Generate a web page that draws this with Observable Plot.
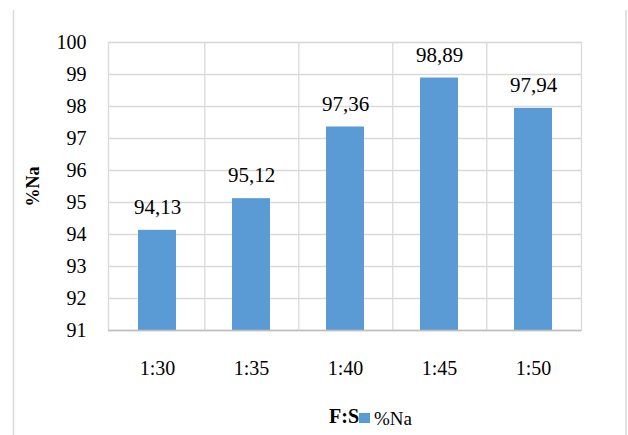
<!DOCTYPE html>
<html>
<head>
<meta charset="utf-8">
<script src="https://cdn.jsdelivr.net/npm/d3@7"></script>
<script src="https://cdn.jsdelivr.net/npm/@observablehq/plot@0.6"></script>
<style>
  html, body { margin: 0; padding: 0; background: #fff; }
  #chart { position: relative; width: 628px; height: 435px; }
  #chart svg, #chart svg text { font-family: "Liberation Serif", "Times New Roman", serif !important; }
</style>
</head>
<body>
<div id="chart"></div>
<script>
// Sodium recovery (%Na) for each F:S ratio
const ratios = ["1:30", "1:35", "1:40", "1:45", "1:50"];
const naPercent = [94.13, 95.12, 97.36, 98.89, 97.94];
const yTicks = [91, 92, 93, 94, 95, 96, 97, 98, 99, 100];
const seriesName = "%Na";
const xTitle = "F:S";

const data = ratios.map((r, i) => ({ ratio: r, value: naPercent[i] }));
const fmt = v => v.toFixed(2).replace(".", ",");

const W = 628, H = 435;
const mL = 108, mR = 47, mT = 42, mB = 105;
const halfStep = (W - mL - mR) / ratios.length / 2;
const barColor = "#5b9bd5";
const gridColor = "#d9d9d9";
const serif = "'Liberation Serif', 'Times New Roman', serif";

const plot = Plot.plot({
  width: W,
  height: H,
  marginLeft: mL,
  marginRight: mR,
  marginTop: mT,
  marginBottom: mB,
  style: { fontSize: "20px", fontFamily: serif, color: "#000", background: "#fff" },
  x: { domain: ratios, paddingInner: 0.6, paddingOuter: 0.3, label: xTitle },
  y: { domain: [91, 100], ticks: yTicks, label: seriesName },
  marks: [
    Plot.gridY(yTicks, { stroke: gridColor, strokeOpacity: 1, strokeWidth: 1.3 }),
    Plot.ruleX(ratios.slice(0, -1), { x: d => d, dx: halfStep, stroke: gridColor, strokeWidth: 1.3 }),
    Plot.frame({ stroke: gridColor, strokeWidth: 1.3 }),
    Plot.barY(data, { x: "ratio", y1: 91, y2: "value", fill: barColor }),
    Plot.ruleY([91], { stroke: "#bfbfbf", strokeWidth: 1.6 }),
    Plot.text(data, { x: "ratio", y: "value", text: d => fmt(d.value), dy: -23, fill: "#000", fontSize: 21, fontFamily: serif }),
    Plot.axisY(yTicks, { tickSize: 0, tickPadding: 22, label: seriesName, labelAnchor: "center", labelArrow: "none", labelOffset: 82, tickFormat: d => d, fontFamily: serif }),
    Plot.axisX({ tickSize: 0, tickPadding: 30, label: xTitle, labelAnchor: "center", labelArrow: "none", labelOffset: 92, fontFamily: serif })
  ]
});

const svg = d3.select(plot);
svg.selectAll("text").attr("font-family", serif);
// bold axis titles
svg.selectAll('g[aria-label="y-axis label"] text')
  .attr("font-weight", "bold").attr("font-size", 18);
svg.selectAll('g[aria-label="x-axis label"] text')
  .attr("font-weight", "bold").attr("font-size", 20).attr("text-anchor", "end").attr("dx", 14);

// outer chart border (side edges)
svg.append("line").attr("x1", 13.5).attr("x2", 13.5).attr("y1", 10).attr("y2", H)
  .attr("stroke", gridColor).attr("stroke-width", 1.5);
svg.append("line").attr("x1", 626).attr("x2", 626).attr("y1", 10).attr("y2", H)
  .attr("stroke", gridColor).attr("stroke-width", 1.5);

// legend: swatch and series name, left-aligned after the axis title
const lg = svg.append("g").attr("aria-label", "legend").attr("text-anchor", "start");
lg.append("rect").attr("x", 359).attr("y", 413).attr("width", 11).attr("height", 10).attr("fill", barColor);
lg.append("text").attr("x", 374).attr("y", 425).attr("text-anchor", "start")
  .attr("font-size", 19).attr("font-family", serif).attr("fill", "#000").text(seriesName);

document.getElementById("chart").appendChild(plot);
</script>
</body>
</html>
